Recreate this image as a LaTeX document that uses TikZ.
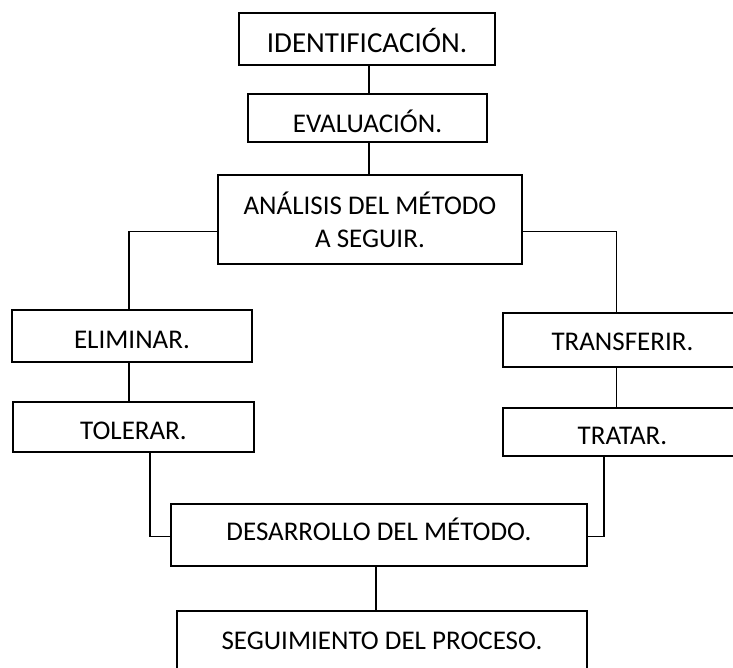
\documentclass[tikz,border=0pt]{standalone}
\usepackage{fontspec}
\setmainfont{Carlito}
\usetikzlibrary{calc}
\tikzset{
  box/.style={draw=black, line width=1.9pt, rectangle, inner sep=0pt, align=center,
    font=\fontsize{27}{33}\selectfont, text=black, text height=24pt, text depth=0pt},
  twoline/.style={text height=, text depth=},
  conn/.style={draw=black, line width=1.9pt}
}
\begin{document}
\begin{tikzpicture}[x=1pt, y=-1pt]
\path[use as bounding box, clip] (0,0) rectangle (733,667);
\fill[white] (0,0) rectangle (733,667);
\node[box, minimum width=256pt, minimum height=52pt, font=\fontsize{29}{33}\selectfont, text height=26.7pt] (ident) at (367,39) {IDENTIFICACIÓN.};
\node[box, minimum width=239pt, minimum height=48pt, text height=29pt] (eval) at (367.5,118) {EVALUACIÓN.};
\node[box, twoline, minimum width=303.5pt, minimum height=89pt] (anal) at (370,219.5) {ANÁLISIS DEL MÉTODO\\A SEGUIR.};
\node[box, minimum width=240pt, minimum height=52pt] (elim) at (132,336) {ELIMINAR.};
\node[box, minimum width=241pt, minimum height=50pt] (tol) at (133.5,427) {TOLERAR.};
\node[box, minimum width=239pt, minimum height=54pt, text height=20.4pt] (trans) at (622.5,340) {TRANSFERIR.};
\node[box, minimum width=239pt, minimum height=48pt] (trat) at (622.5,432) {TRATAR.};
\node[box, minimum width=416pt, minimum height=62pt, text height=10.4pt] (des) at (379,535) {DESARROLLO DEL MÉTODO.};
\node[box, minimum width=410pt, minimum height=59pt, text height=17.4pt] (seg) at (382,640.5) {SEGUIMIENTO DEL PROCESO.};

\draw[conn] ($(ident.south)+(2,0)$) coordinate (p1) -- (p1 |- eval.north);
\draw[conn] ($(eval.south)+(1.5,0)$) coordinate (p2) -- (p2 |- anal.north);
\draw[conn] ($(anal.west)+(0,12)$) -| ($(elim.north)+(-3,0)$);
\draw[conn] ($(anal.east)+(0,12)$) -| ($(trans.north)+(-6,0)$);
\draw[conn] ($(elim.south)+(-3,0)$) coordinate (p3) -- (p3 |- tol.north);
\draw[conn] ($(trans.south)+(-6,0)$) coordinate (p4) -- (p4 |- trat.north);
\draw[conn] ($(tol.south)+(16.5,0)$) |- ($(des.west)+(0,1.5)$);
\draw[conn] ($(trat.south)+(-18.5,0)$) |- ($(des.east)+(0,1.5)$);
\draw[conn] ($(des.south)+(-3,0)$) coordinate (p5) -- (p5 |- seg.north);
\end{tikzpicture}
\end{document}
